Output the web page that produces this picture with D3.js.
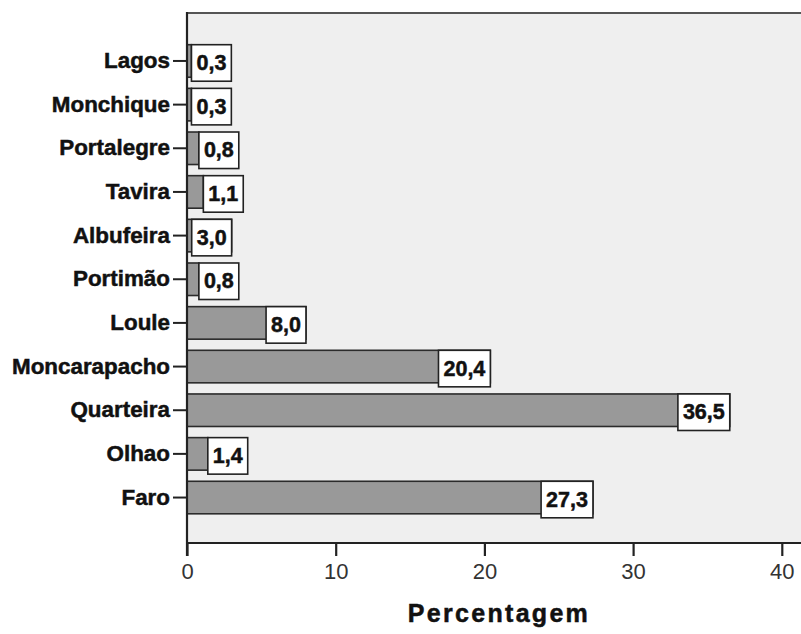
<!DOCTYPE html>
<html>
<head>
<meta charset="utf-8">
<script src="https://cdn.jsdelivr.net/npm/d3@7"></script>
<style>
  html, body { margin: 0; padding: 0; background: #ffffff; }
  svg { display: block; }
</style>
</head>
<body>
<svg id="chart" width="801" height="634"></svg>
<script>
// Cidades (top to bottom) and their percentage
const categories = ["Lagos", "Monchique", "Portalegre", "Tavira", "Albufeira", "Portimão",
                    "Loule", "Moncarapacho", "Quarteira", "Olhao", "Faro"];
const values = [0.3, 0.3, 0.8, 1.1, 3.0, 0.8, 8.0, 20.4, 36.5, 1.4, 27.3];
const xTicks = [0, 10, 20, 30, 40];
const xTitle = "Percentagem";

const svg = d3.select("#chart");
const plotLeft = 187, plotTop = 13, plotBottom = 543, pxPerUnit = 14.87;
const FONT = "'Liberation Sans', Arial, sans-serif";

const x = d3.scaleLinear().domain([0, 41.5]).range([plotLeft, plotLeft + 41.5 * pxPerUnit]);
const y = d3.scaleBand().domain(categories).range([18.5, 540])
  .paddingInner(0.255).paddingOuter(0.6);

const fmt = v => v.toFixed(1).replace(".", ",");

// plot background
svg.append("rect")
  .attr("x", plotLeft).attr("y", plotTop)
  .attr("width", 801 - plotLeft).attr("height", plotBottom - plotTop)
  .attr("fill", "#efefef");

// top frame line
svg.append("line")
  .attr("x1", plotLeft).attr("x2", 801).attr("y1", plotTop).attr("y2", plotTop)
  .attr("stroke", "#555").attr("stroke-width", 2.2);

// bars
const rows = svg.append("g").selectAll("g").data(categories).join("g");
rows.append("rect")
  .attr("x", x(0))
  .attr("y", d => y(d))
  .attr("width", (d, i) => x(values[i]) - x(0))
  .attr("height", y.bandwidth())
  .attr("fill", "#999999")
  .attr("stroke", "#2b2b2b")
  .attr("stroke-width", 1.6);

// value boxes
rows.each(function (d, i) {
  const g = d3.select(this);
  const t = g.append("text")
    .attr("font-family", FONT)
    .attr("font-weight", "bold")
    .attr("font-size", 21.5)
    .attr("fill", "#111")
    .attr("stroke", "#111")
    .attr("stroke-width", 0.5)
    .attr("dominant-baseline", "central")
    .text(fmt(values[i]));
  const tw = t.node().getComputedTextLength();
  const bw = tw + 10;
  const barEnd = x(values[i]);
  const barLen = barEnd - x(0);
  const bx = bw <= barLen ? barEnd - bw : barEnd;
  const by = y(d), bh = y.bandwidth() + 4;
  g.insert("rect", "text")
    .attr("x", bx).attr("y", by)
    .attr("width", bw).attr("height", bh)
    .attr("fill", "#ffffff")
    .attr("stroke", "#222")
    .attr("stroke-width", 1.6);
  t.attr("x", bx + 5).attr("y", by + bh / 2);
});

// y axis
const yAxis = svg.append("g")
  .attr("transform", `translate(${plotLeft},0)`)
  .call(d3.axisLeft(y).tickSize(14).tickPadding(3));
yAxis.select(".domain").remove();
yAxis.selectAll(".tick line").attr("stroke", "#222").attr("stroke-width", 2);
yAxis.selectAll(".tick text")
  .attr("font-family", FONT)
  .attr("font-weight", "bold")
  .attr("font-size", 22.4)
  .attr("fill", "#111")
  .attr("stroke", "#111")
  .attr("stroke-width", 0.5);

svg.append("line")
  .attr("x1", plotLeft).attr("x2", plotLeft).attr("y1", plotTop - 1).attr("y2", plotBottom + 13)
  .attr("stroke", "#222").attr("stroke-width", 2.2);

// x axis
const xAxis = svg.append("g")
  .attr("transform", `translate(0,${plotBottom})`)
  .call(d3.axisBottom(x).tickValues(xTicks).tickSize(13).tickPadding(7).tickSizeOuter(0));
xAxis.select(".domain").attr("stroke", "#222").attr("stroke-width", 2.2)
  .attr("d", `M${plotLeft},0H801`);
xAxis.selectAll(".tick line").attr("stroke", "#222").attr("stroke-width", 2.2);
xAxis.selectAll(".tick text")
  .attr("font-family", FONT)
  .attr("font-size", 22)
  .attr("fill", "#333");

svg.append("text")
  .attr("x", 499).attr("y", 622)
  .attr("text-anchor", "middle")
  .attr("font-family", FONT)
  .attr("font-weight", "bold")
  .attr("font-size", 25)
  .attr("letter-spacing", 2.3)
  .attr("fill", "#111")
  .attr("stroke", "#111")
  .attr("stroke-width", 0.5)
  .text(xTitle);
</script>
</body>
</html>
